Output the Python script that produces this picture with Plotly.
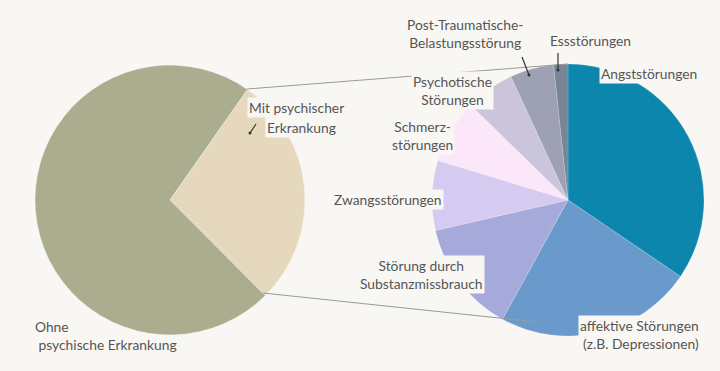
import plotly.graph_objects as go

# ---- data ----
main_labels = ["Mit psychischer Erkrankung", "Ohne psychische Erkrankung"]
main_values = [27.8, 72.2]
main_colors = ["#E6D8BD", "#ABAD8F"]

sub_labels = ["Angststörungen", "affektive Störungen (z.B. Depressionen)",
              "Störung durch Substanzmissbrauch", "Zwangsstörungen",
              "Schmerzstörungen", "Psychotische Störungen",
              "Post-Traumatische-Belastungsstörung", "Essstörungen"]
sub_values = [34.5, 23.5, 13.4, 8.3, 7.6, 5.8, 5.2, 1.7]
sub_colors = ["#0C86AD", "#6A9ACB", "#A6AADA", "#D5CAF0",
              "#FBE6FA", "#CBC5DC", "#9EA0B4", "#788595"]

W, H = 720, 371
BG = "#F9F7F4"
TXT = "#555555"
FS = 13.8


def px(x):
    return x / W


def py(y):
    return 1 - y / H


def dom(cx, cy, r):
    return dict(x=[px(cx - r), px(cx + r)], y=[py(cy + r), py(cy - r)])


fig = go.Figure()
fig.add_trace(go.Pie(labels=main_labels, values=main_values, sort=False,
                     direction="clockwise", rotation=35,
                     marker=dict(colors=main_colors, line=dict(color=BG, width=0.5)),
                     textinfo="none", hoverinfo="label+percent",
                     domain=dom(170, 200, 135), showlegend=False))
fig.add_trace(go.Pie(labels=sub_labels, values=sub_values, sort=False,
                     direction="clockwise", rotation=0,
                     marker=dict(colors=sub_colors, line=dict(color="rgba(255,255,255,0.35)", width=0.5)),
                     textinfo="none", hoverinfo="label+percent",
                     domain=dom(568, 200, 136), showlegend=False))

shapes = []
# connector lines
for (x0, y0, x1, y1) in [(247, 89, 568, 64), (263, 293, 537, 322)]:
    shapes.append(dict(type="line", xref="paper", yref="paper",
                       x0=px(x0), y0=py(y0), x1=px(x1), y1=py(y1),
                       line=dict(color="#9A9A9A", width=1)))
# small leader marks
for (x0, y0, x1, y1) in [(256, 124, 250, 133), (522, 57, 529, 75), (558, 53, 558, 70)]:
    shapes.append(dict(type="line", xref="paper", yref="paper",
                       x0=px(x0), y0=py(y0), x1=px(x1), y1=py(y1),
                       line=dict(color="#333333", width=1.2)))
    shapes.append(dict(type="circle", xref="paper", yref="paper",
                       x0=px(x1 - 1.5), y0=py(y1 + 1.5), x1=px(x1 + 1.5), y1=py(y1 - 1.5),
                       fillcolor="#333333", line=dict(width=0)))

annots = []


def ann(text, x, y, align="center", xanchor="center", bg=BG):
    annots.append(dict(text=text, x=px(x), y=py(y), xref="paper", yref="paper",
                       showarrow=False, align=align, xanchor=xanchor, yanchor="middle",
                       bgcolor=bg, borderpad=1,
                       font=dict(family="Lato", size=FS, color=TXT)))


ann("Mit psychischer", 247, 107, align="left", xanchor="left")
ann("Erkrankung", 265, 127, align="left", xanchor="left")
ann("Ohne<br> psychische Erkrankung", 33, 335, align="left", xanchor="left",
    bg="rgba(0,0,0,0)")
ann("Post-Traumatische-<br>Belastungsstörung", 465, 33)
ann("Essstörungen", 590, 40)
ann("Angststörungen", 649, 73)
ann("Psychotische<br>Störungen", 452, 91)
ann("Schmerz-<br>störungen", 422, 135)
ann("Zwangsstörungen", 388, 200)
ann("Störung durch<br>Substanzmissbrauch", 421, 274)
ann("affektive Störungen<br>(z.B. Depressionen)", 701, 334, align="right", xanchor="right")

fig.update_layout(width=W, height=H, margin=dict(l=0, r=0, t=0, b=0),
                  paper_bgcolor=BG, plot_bgcolor=BG,
                  shapes=shapes, annotations=annots,
                  font=dict(family="Lato", color=TXT))
fig.write_html("out.html")
